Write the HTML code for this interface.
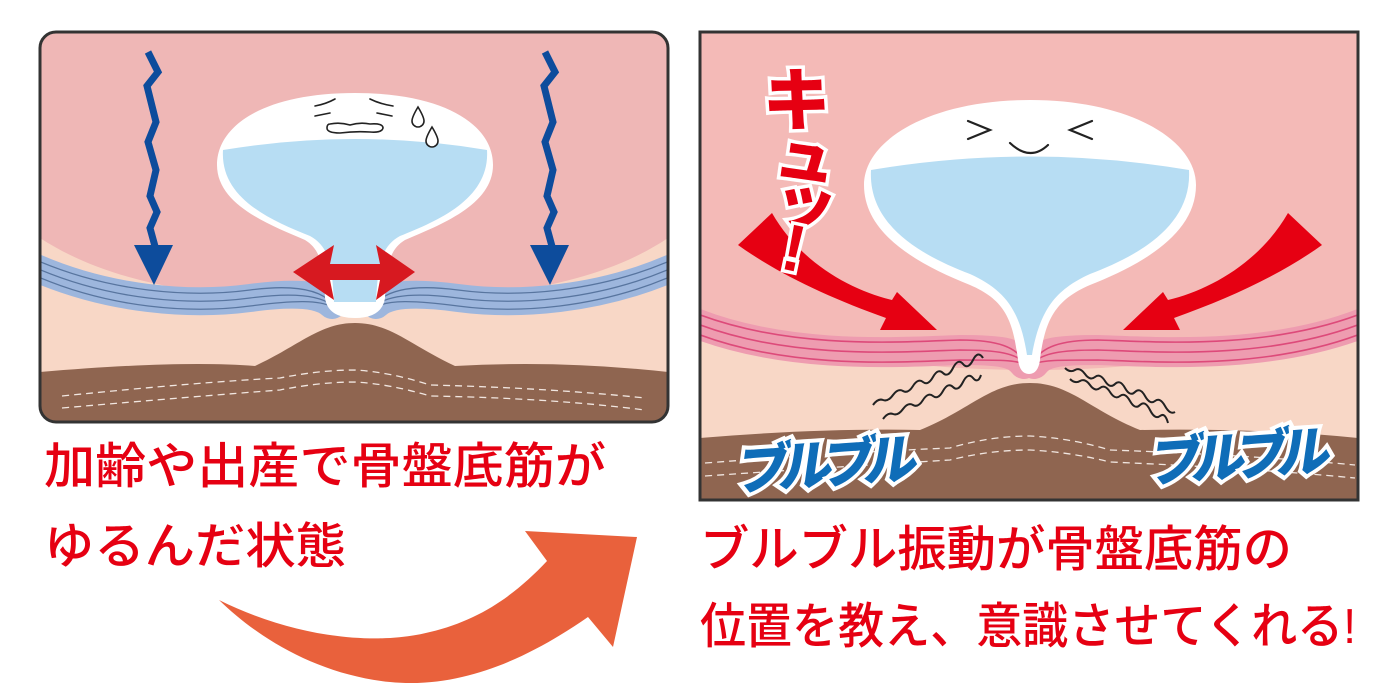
<!DOCTYPE html>
<html><head><meta charset="utf-8"><style>
html,body{margin:0;padding:0;background:#fff;}
svg{display:block;}
.jp{font-family:"Liberation Sans","Noto Sans CJK JP",sans-serif;}
</style></head><body>
<svg width="1400" height="700" viewBox="0 0 1400 700" xmlns="http://www.w3.org/2000/svg">
<defs>
<clipPath id="cl"><rect x="40" y="32" width="628" height="390" rx="16"/></clipPath>
<clipPath id="cr"><rect x="700" y="32" width="658" height="468"/></clipPath>
</defs>

<!-- LEFT PANEL -->
<g clip-path="url(#cl)">
<rect x="40" y="32" width="628" height="390" fill="#efb7b6"/>
<path d="M40,238 C120,290 230,300 355,300 C480,300 590,290 668,238 L668,422 L40,422 Z" fill="#f8d7c6"/>
<g fill="none" stroke-linecap="round">
<path d="M36,268 C110,300 190,306 250,298 C295,292 320,294 332,305" stroke="#9db6dd" stroke-width="28"/>
<path d="M36,260 C110,292 190,298 250,290 C295,284 320,290 332,303" stroke="#58759f" stroke-width="1.3"/>
<path d="M36,268 C110,300 190,306 250,298 C295,292 320,296 332,305" stroke="#58759f" stroke-width="1.3"/>
<path d="M36,276 C110,308 190,314 250,306 C295,300 320,300 332,307" stroke="#58759f" stroke-width="1.3"/>
<path d="M672,268 C598,300 518,306 458,298 C413,292 388,294 376,305" stroke="#9db6dd" stroke-width="28"/>
<path d="M672,260 C598,292 518,298 458,290 C413,284 388,290 376,303" stroke="#58759f" stroke-width="1.3"/>
<path d="M672,268 C598,300 518,306 458,298 C413,292 388,296 376,305" stroke="#58759f" stroke-width="1.3"/>
<path d="M672,276 C598,308 518,314 458,306 C413,300 388,300 376,307" stroke="#58759f" stroke-width="1.3"/>
</g>
<path d="M355,93 C445,93 493,125 493,165 C493,205 440,225 405,240 C388,250 386,270 385,298 Q382,318 355,318 Q328,318 325,298 C324,270 322,250 305,240 C270,225 217,205 217,165 C217,125 265,93 355,93 Z" fill="#fff"/>
<path d="M223,150 Q355,128 487,150 C490,198 440,220 400,236 C382,246 378,262 376,302 L334,302 C332,262 328,246 310,236 C270,220 220,198 223,150 Z" fill="#b7ddf3"/>
<g fill="none" stroke="#222" stroke-width="1.6" stroke-linecap="round">
<path d="M315,106 Q326,104 335,99"/><path d="M370,99 Q380,104 393,106"/>
<path d="M315,116 L330,113"/><path d="M377,113 L392,116"/>
<path d="M330,124 Q340,122 350,125 Q360,122 370,124 Q383,123 383,128 Q382,133 370,132 Q355,131 340,133 Q327,133 327,128 Q327,124 330,124 Z"/>
<path d="M418,107 Q412,117 412,121 A6,6 0 0 0 424,121 Q424,117 418,107 Z" fill="#fff"/>
<path d="M432,127 Q426,137 426,141 A6,6 0 0 0 438,141 Q438,137 432,127 Z" fill="#fff"/>
</g>
<path d="M293,272 L334,245 L330,264 L380,264 L376,245 L415,272 L376,300 L380,280 L330,280 L334,300 Z" fill="#d71920"/>
<path d="M40,372 Q180,360 255,366 C300,345 320,323 355,323 C390,323 410,345 455,366 Q560,360 668,372 L668,422 L40,422 Z" fill="#8f6550"/>
<g fill="none" stroke="#f1e6e0" stroke-width="1.3" stroke-dasharray="7,5">
<path d="M62,396 Q200,382 280,378 Q320,370 355,370 Q390,372 430,385 Q550,388 645,398"/>
<path d="M62,408 Q200,396 280,390 Q320,382 355,382 Q390,384 430,396 Q550,398 645,410"/>
</g>
<g fill="none" stroke="#0d4c9c" stroke-width="7">
<polyline points="148,52 158,72 147,86 156,122 148,142 156,170 150,196 157,212 150,228 156,250"/>
<polyline points="545,52 555,72 544,86 553,122 545,142 553,170 547,196 554,212 547,228 553,250"/>
</g>
<path d="M134,245 L173,245 L154,285 Z" fill="#0d4c9c"/>
<path d="M530,245 L569,245 L550,285 Z" fill="#0d4c9c"/>
</g>
<rect x="40" y="32" width="628" height="390" rx="16" fill="none" stroke="#333" stroke-width="3"/>

<!-- RIGHT PANEL -->
<g clip-path="url(#cr)">
<rect x="700" y="32" width="658" height="468" fill="#f4bab7"/>
<path d="M700,318 C800,355 920,370 1030,370 C1140,370 1260,355 1358,318 L1358,500 L700,500 Z" fill="#f8d7c6"/>
<g fill="none" stroke-linecap="round">
<path d="M695,323 C790,360 900,352 960,350 C1000,350 1015,352 1024,364" stroke="#ee9cb0" stroke-width="30"/>
<path d="M695,313 C790,350 900,342 960,340 C1000,340 1015,348 1024,360" stroke="#dd4a7a" stroke-width="1.6"/>
<path d="M695,323 C790,360 900,352 960,350 C1000,350 1015,354 1024,362" stroke="#dd4a7a" stroke-width="1.6"/>
<path d="M695,333 C790,370 900,362 960,360 C1000,360 1015,360 1024,364" stroke="#dd4a7a" stroke-width="1.6"/>
<path d="M1363,323 C1268,360 1158,352 1098,350 C1058,350 1043,352 1034,364" stroke="#ee9cb0" stroke-width="30"/>
<path d="M1363,313 C1268,350 1158,342 1098,340 C1058,340 1043,348 1034,360" stroke="#dd4a7a" stroke-width="1.6"/>
<path d="M1363,323 C1268,360 1158,352 1098,350 C1058,350 1043,354 1034,362" stroke="#dd4a7a" stroke-width="1.6"/>
<path d="M1363,333 C1268,370 1158,362 1098,360 C1058,360 1043,360 1034,364" stroke="#dd4a7a" stroke-width="1.6"/>
</g>
<path d="M1030,100 C1130,100 1196,140 1196,185 C1196,235 1140,265 1090,285 C1055,300 1045,320 1040,360 Q1038,374 1029,374 Q1020,374 1018,360 C1013,320 1005,300 970,285 C920,265 864,235 864,185 C864,140 930,100 1030,100 Z" fill="#fff"/>
<path d="M871,170 Q1030,143 1189,170 C1192,225 1140,255 1090,274 C1055,290 1040,310 1032,355 L1027,355 C1020,310 1005,290 970,274 C920,255 868,225 871,170 Z" fill="#b7ddf3"/>
<g fill="none" stroke="#222" stroke-width="2.2" stroke-linecap="round">
<path d="M968,121 L990,130 L968,139"/><path d="M1092,121 L1070,130 L1092,139"/>
<path d="M1010,143 Q1030,162 1048,145"/>
</g>
<path d="M772,213 C800,262 850,290 892,300 L897,292 L937,330 L880,330 L886,318 C830,298 780,275 738,245 Z" fill="#e60012"/>
<path d="M1288,213 C1260,262 1210,290 1168,300 L1163,292 L1123,330 L1180,330 L1174,318 C1230,298 1280,275 1322,245 Z" fill="#e60012"/>
<g fill="none" stroke="#222" stroke-width="2">
<path d="M873,405 q5,-7 10,-5 t10,-5 t10,-4 t10,-5 t10,-4 t10,-5 t10,-4 t10,-5 t10,-4 t10,-4 t10,-2"/>
<path d="M883,419 q5,-7 10,-5 t10,-5 t10,-4 t10,-5 t10,-4 t10,-5 t10,-4 t10,-5 t10,-4 t8,-3"/>
<path d="M1065,368 q5,5 10,2 t10,4 t10,3 t10,4 t10,3 t10,4 t10,4 t10,4 t10,5 t10,5 t10,6"/>
<path d="M1070,379 q5,5 10,2 t10,4 t10,3 t10,4 t10,4 t10,5 t10,4 t10,5 t10,6 t8,7"/>
</g>
<path d="M700,438 Q820,428 920,430 C970,410 990,383 1030,383 C1070,383 1090,410 1140,430 Q1260,428 1358,438 L1358,500 L700,500 Z" fill="#8f6550"/>
<g fill="none" stroke="#f1e6e0" stroke-width="1.3" stroke-dasharray="7,5">
<path d="M705,463 Q850,452 950,448 Q990,436 1030,436 Q1070,438 1110,450 Q1250,455 1355,465"/>
<path d="M705,476 Q850,466 950,460 Q990,450 1030,450 Q1070,452 1110,462 Q1250,468 1355,478"/>
</g>
<g class="jp" font-weight="900" font-size="54" fill="#0f6db8" stroke="#fff" stroke-width="8" paint-order="stroke">
<text transform="translate(735,490) rotate(-4) skewX(-12)" textLength="182">ブルブル</text>
<text transform="translate(1148,482) rotate(-4) skewX(-12)" textLength="182">ブルブル</text>
</g>
<g class="jp" font-weight="900" fill="#e60012" stroke="#fff" stroke-width="7" paint-order="stroke">
<text x="764" y="125" font-size="68" transform="rotate(8 800 95)">キ</text>
<text x="776" y="178" font-size="62" transform="rotate(8 808 150)">ュ</text>
<text x="776" y="225" font-size="62" transform="rotate(8 808 195)">ッ</text>
<text x="784" y="274" font-size="66" transform="rotate(12 810 245)">!</text>
</g>
</g>
<rect x="700" y="32" width="658" height="468" fill="none" stroke="#333" stroke-width="3"/>

<path d="M219,600 C300,640 380,645 430,632 C480,620 515,595 547,561 L525,531 L637,537 L613,647 L588,617 C540,650 470,690 390,682 C320,675 260,640 219,600 Z" fill="#e9613c"/>

<g class="jp" fill="#e60012" font-size="49" font-weight="500">
<text x="44" y="483" textLength="562" lengthAdjust="spacingAndGlyphs">加齢や出産で骨盤底筋が</text>
<text x="44" y="563" textLength="302" lengthAdjust="spacingAndGlyphs">ゆるんだ状態</text>
<text x="700" y="566" textLength="592" lengthAdjust="spacingAndGlyphs">ブルブル振動が骨盤底筋の</text>
<text x="700" y="643" textLength="656" lengthAdjust="spacingAndGlyphs">位置を教え、意識させてくれる!</text>
</g>
</svg>
</body></html>
